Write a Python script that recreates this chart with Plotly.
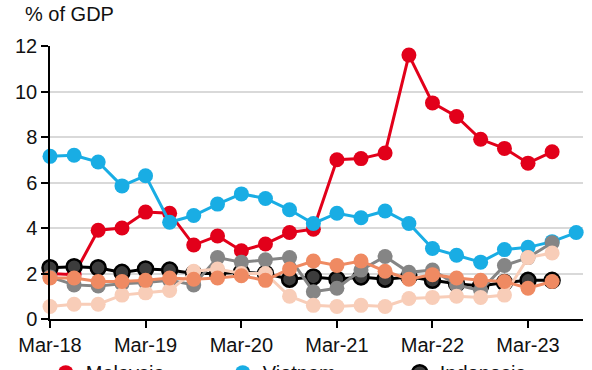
import plotly.graph_objects as go
import pandas as pd

quarters = pd.date_range("2018-03-01", periods=23, freq="3MS").strftime("%Y-%m-%d").tolist()

malaysia = [2.0, 1.95, 3.9, 4.0, 4.7, 4.65, 3.25, 3.65, 3.0, 3.3, 3.8, 3.95, 7.0, 7.05, 7.3, 11.6,
            9.5, 8.9, 7.9, 7.5, 6.85, 7.35]
vietnam = [7.15, 7.2, 6.9, 5.85, 6.3, 4.25, 4.55, 5.05, 5.5, 5.3, 4.8, 4.2, 4.65, 4.45, 4.75, 4.2,
           3.1, 2.8, 2.5, 3.05, 3.15, 3.4, 3.8]
indonesia = [2.25, 2.3, 2.25, 2.05, 2.2, 2.15, 2.0, 2.0, 2.05, 2.0, 1.75, 1.85, 1.75, 1.85, 1.75, 1.85,
             1.7, 1.55, 1.45, 1.6, 1.7, 1.7]
thailand = [1.85, 1.5, 1.45, 1.55, 1.6, 1.7, 1.5, 2.7, 2.5, 2.6, 2.7, 1.2, 1.35, 2.15, 2.75, 2.05,
            2.15, 1.5, 1.25, 2.35, 2.7, 3.35]
philippines = [0.55, 0.65, 0.65, 1.05, 1.15, 1.25, 2.1, 2.2, 2.0, 2.0, 1.0, 0.6, 0.55, 0.6, 0.55, 0.9,
               0.95, 1.0, 0.95, 1.05, 2.7, 2.9]
india = [1.8, 1.8, 1.65, 1.65, 1.7, 1.8, 1.75, 1.8, 1.9, 1.7, 2.2, 2.55, 2.35, 2.55, 2.1, 1.75,
         1.95, 1.8, 1.7, 1.65, 1.35, 1.65]

series = [
    ("Malaysia", malaysia, "#E2001A", "#E2001A"),
    ("Vietnam", vietnam, "#19ADE4", "#19ADE4"),
    ("Indonesia", indonesia, "#000000", "#3C3C3C"),
    ("Thailand", thailand, "#858585", "#858585"),
    ("Philippines", philippines, "#F8CDB8", "#F8CDB8"),
    ("India", india, "#EF8A62", "#EF8A62"),
]

FONT = "Liberation Sans, Arial, sans-serif"
fig = go.Figure()
for name, vals, lc, mc in series:
    fig.add_trace(go.Scatter(
        x=quarters[:len(vals)], y=vals, name=name, mode="lines+markers",
        line=dict(color=lc, width=3),
        marker=dict(size=15, color=mc,
                    line=dict(color="#000000" if name == "Indonesia" else mc, width=2.5 if name == "Indonesia" else 0)),
        cliponaxis=False,
    ))

fig.update_layout(
    width=592, height=370,
    margin=dict(l=50, r=9, t=46, b=51, autoexpand=False),
    paper_bgcolor="white", plot_bgcolor="white",
    font=dict(family=FONT, size=20, color="#111111"),
    showlegend=True,
    legend=dict(orientation="h", x=-0.008, xanchor="left", y=-0.125, yanchor="top",
                entrywidth=132, entrywidthmode="pixels",
                font=dict(size=20), bgcolor="rgba(0,0,0,0)"),
    xaxis=dict(
        type="date", range=["2018-03-01", "2023-09-27"],
        tick0="2018-03-01", dtick="M12", tickformat="%b-%y",
        showgrid=False, zeroline=False,
        showline=True, linecolor="#000000", linewidth=1.5,
        ticks="outside", ticklen=7, tickwidth=1.5, tickcolor="#000000",
    ),
    yaxis=dict(
        range=[0, 12], dtick=2, tick0=0,
        showgrid=True, gridcolor="#D9D9D9", gridwidth=1.5,
        zeroline=False,
        showline=True, linecolor="#000000", linewidth=1.5,
        ticks="outside", ticklen=7, tickwidth=1.5, tickcolor="#000000",
    ),
    annotations=[dict(text="% of GDP", xref="paper", yref="paper", x=-0.05, y=1.165,
                      xanchor="left", yanchor="top", showarrow=False,
                      font=dict(size=20, family=FONT))],
)

fig.write_html("out.html", config={"displayModeBar": False},
               post_script="document.body.style.margin='0px';document.body.style.overflow='hidden';")
